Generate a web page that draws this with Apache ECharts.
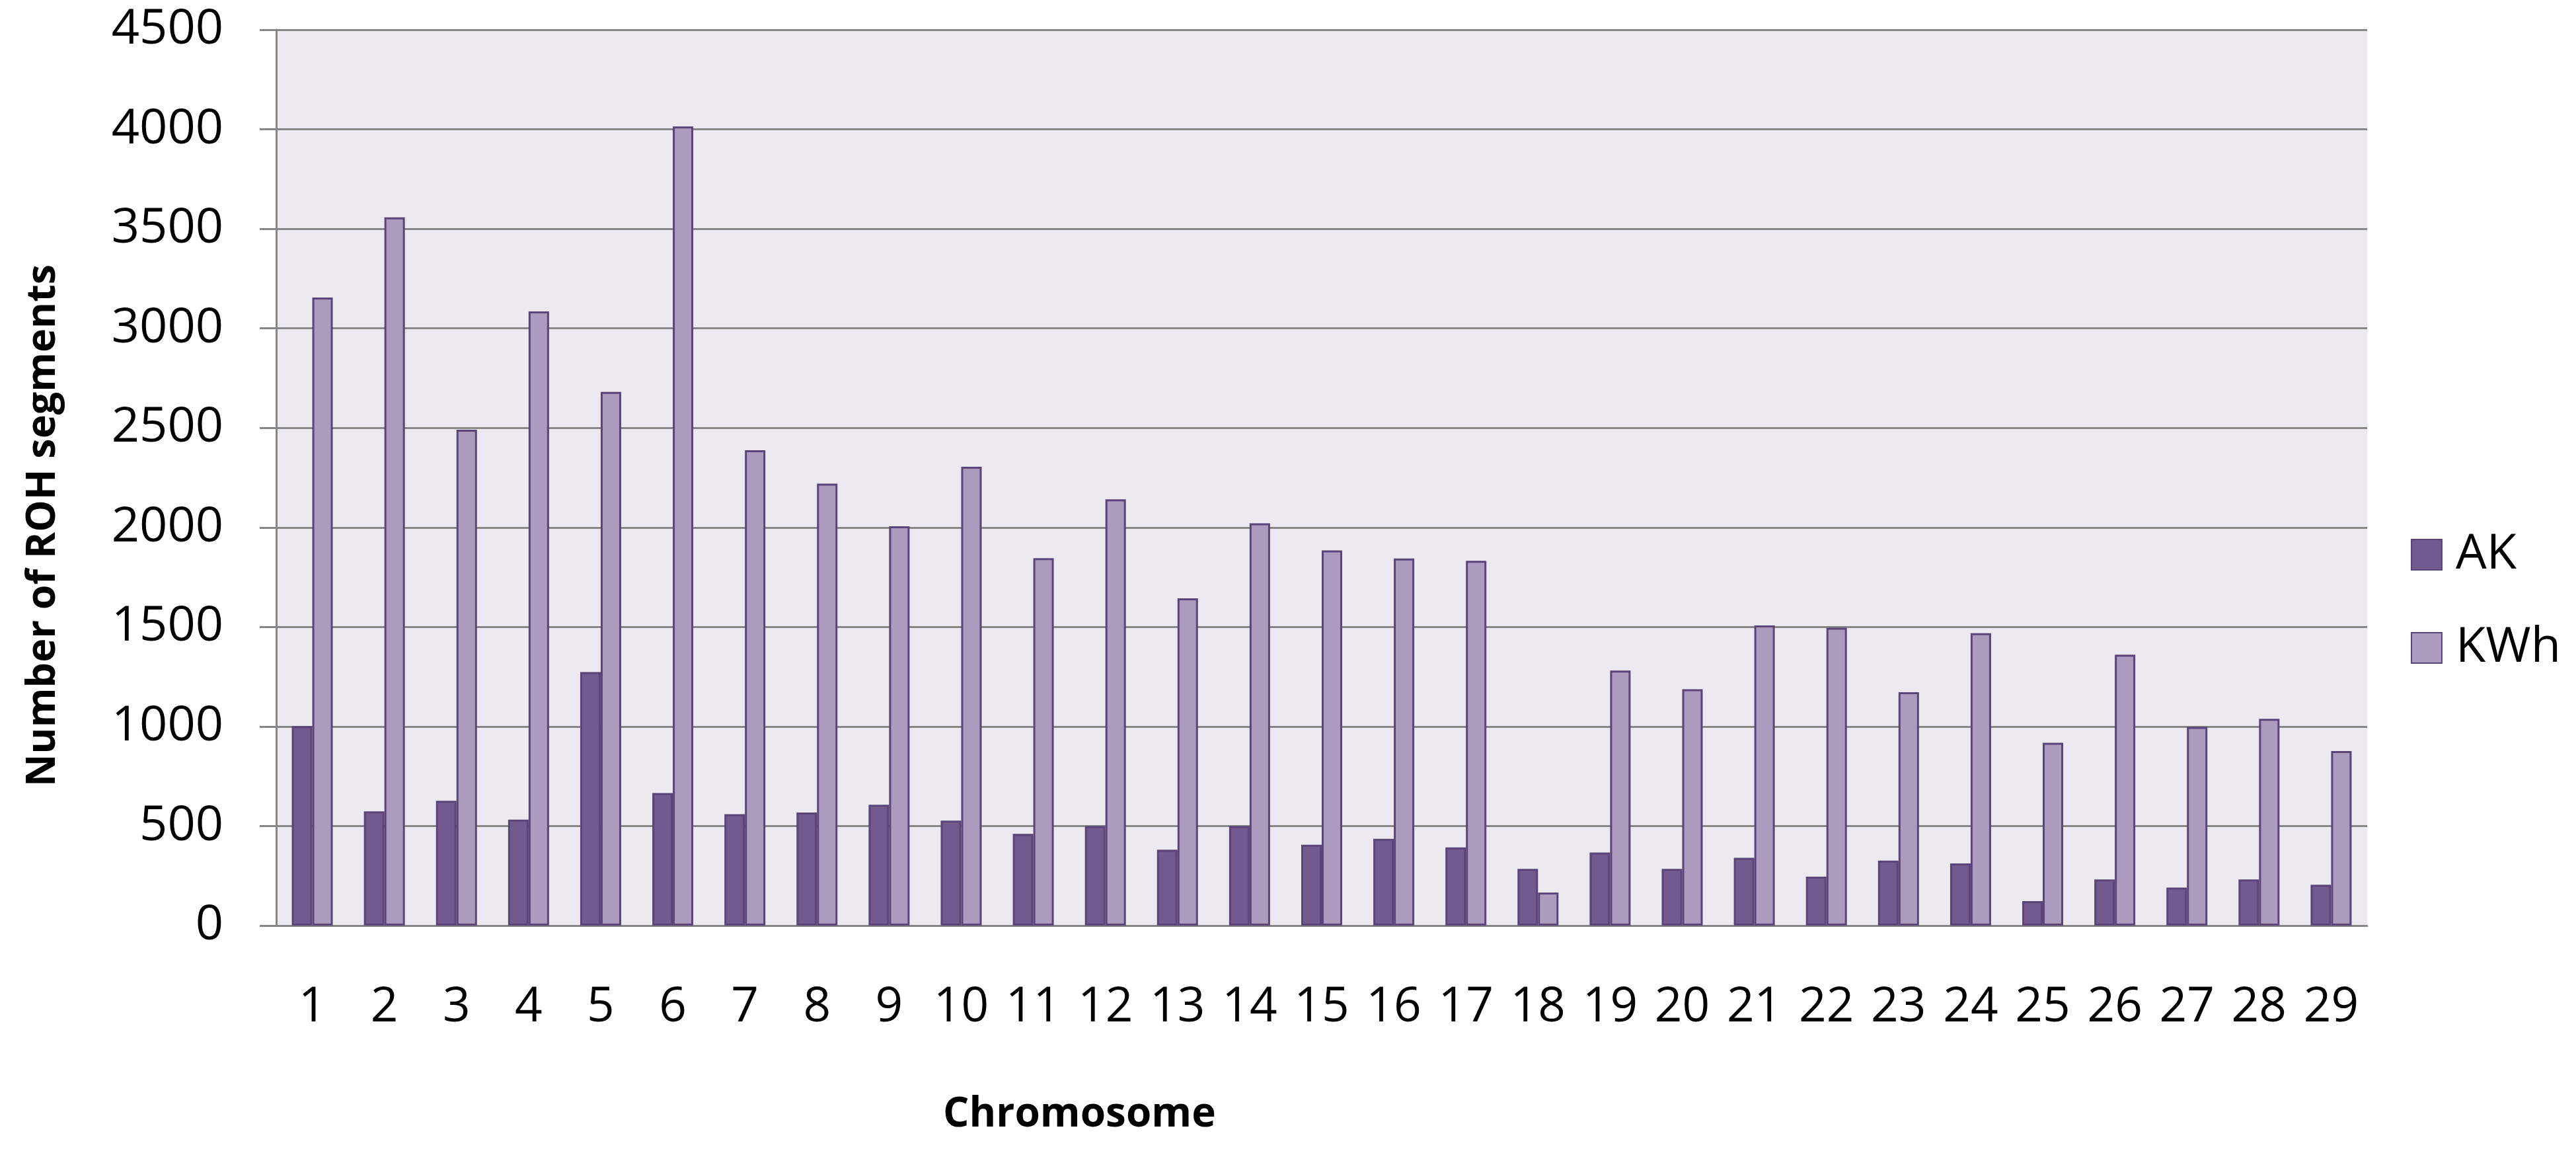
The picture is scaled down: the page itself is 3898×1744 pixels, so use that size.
<!DOCTYPE html>
<html>
<head>
<meta charset="utf-8">
<script src="https://cdn.jsdelivr.net/npm/echarts@6/dist/echarts.min.js"></script>
<style>
html,body{margin:0;padding:0;background:#fff;}
#c{width:3898px;height:1744px;}
</style>
</head>
<body>
<div id="c"></div>
<script>
const chromosomes = ['1','2','3','4','5','6','7','8','9','10','11','12','13','14','15','16','17','18','19','20','21','22','23','24','25','26','27','28','29'];
const akValues  = [1002, 574, 627, 532, 1274, 666, 560, 568, 607, 527, 461, 500, 381, 500, 406, 436, 393, 285, 367, 285, 340, 246, 326, 312, 123, 232, 191, 232, 205];
const kwhValues = [3155, 3558, 2491, 3085, 2681, 4014, 2388, 2220, 2006, 2305, 1846, 2141, 1644, 2021, 1885, 1844, 1832, 166, 1281, 1187, 1508, 1496, 1172, 1469, 918, 1361, 998, 1039, 877];
const yTicks = { min: 0, max: 4500, interval: 500 };
const seriesNames = ['AK', 'KWh'];

const chart = echarts.init(document.getElementById('c'));
const gray = '#878787';
const font = '"Open Sans", "Noto Sans", sans-serif';
chart.setOption({
  animation: false,
  backgroundColor: '#ffffff',
  grid: { left: 418, right: 316, top: 45, bottom: 344, show: true, backgroundColor: '#ECEAF0', borderWidth: 0 },
  legend: {
    orient: 'vertical', left: 3643, top: 797,
    itemWidth: 46, itemHeight: 46, itemGap: 67,
    icon: 'rect',
    textStyle: { fontFamily: font, fontSize: 74, lineHeight: 74, color: '#000', padding: [0, 0, 0, 16] },
    data: seriesNames
  },
  xAxis: {
    type: 'category', data: chromosomes,
    axisLine: { lineStyle: { color: gray, width: 3 } },
    axisTick: { show: false },
    axisLabel: { fontFamily: font, fontSize: 73, color: '#000', margin: 88, interval: 0 }
  },
  yAxis: {
    type: 'value', min: yTicks.min, max: yTicks.max, interval: yTicks.interval,
    axisLine: { show: true, lineStyle: { color: gray, width: 3 } },
    axisTick: { show: true, length: 25, lineStyle: { color: gray, width: 3 } },
    splitLine: { lineStyle: { color: gray, width: 3 } },
    axisLabel: { fontFamily: font, fontSize: 74, color: '#000', margin: 80, formatter: v => String(v) }
  },
  graphic: [
    { type: 'text', left: 1637 - 210, top: 1697 - 42,
      style: { text: 'Chromosome', fontFamily: font, fontSize: 62, fontWeight: 'bold', fill: '#000' } },
    { type: 'text', x: 66, y: 795, rotation: Math.PI / 2,
      style: { text: 'Number of ROH segments', fontFamily: font, fontSize: 61, fontWeight: 'bold', fill: '#000', align: 'center', verticalAlign: 'middle' } }
  ],
  series: [
    { name: seriesNames[0], type: 'bar', data: akValues, barWidth: 31, barGap: '0%',
      itemStyle: { color: '#715A8E', borderColor: '#5A4478', borderWidth: 3 } },
    { name: seriesNames[1], type: 'bar', data: kwhValues, barWidth: 31, barGap: '0%',
      itemStyle: { color: '#AA9BBF', borderColor: '#5A4478', borderWidth: 3 } }
  ]
});
</script>
</body>
</html>
